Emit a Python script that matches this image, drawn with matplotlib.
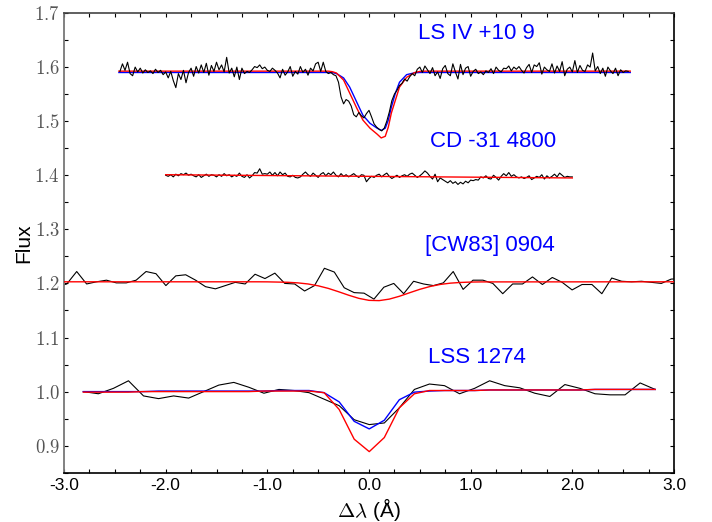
import numpy as np
import matplotlib
matplotlib.use("Agg")
import matplotlib.pyplot as plt
from matplotlib.ticker import MultipleLocator, FuncFormatter

plt.rcParams['font.family'] = ['Liberation Sans', 'DejaVu Sans']
plt.rcParams['mathtext.fontset'] = 'cm'
plt.rcParams['axes.unicode_minus'] = False

# ---------------- data ----------------
# LS IV +10 9 (observed, grid -2.45 .. 2.55, step 0.025)
ls4_wave_start, ls4_wave_step = -2.45, 0.025
ls4_flux = [
    1.592, 1.606, 1.594, 1.609, 1.588, 1.584, 1.600, 1.591, 1.598, 1.589,
    1.595, 1.590, 1.593, 1.588, 1.596, 1.590, 1.594, 1.586, 1.591, 1.580,
    1.592, 1.575, 1.562, 1.588, 1.577, 1.594, 1.571, 1.590, 1.598, 1.583,
    1.601, 1.589, 1.604, 1.590, 1.607, 1.585, 1.603, 1.592, 1.609, 1.595,
    1.604, 1.591, 1.618, 1.589, 1.598, 1.582, 1.600, 1.577, 1.598, 1.588,
    1.592, 1.590, 1.595, 1.601, 1.599, 1.604, 1.597, 1.600, 1.594, 1.592,
    1.598, 1.594, 1.589, 1.580, 1.596, 1.585, 1.591, 1.601, 1.583, 1.592,
    1.587, 1.601, 1.590, 1.596, 1.585, 1.598, 1.593, 1.606, 1.609, 1.592,
    1.609, 1.592, 1.588, 1.590, 1.586, 1.584, 1.572, 1.545, 1.532, 1.540,
    1.537, 1.528, 1.512, 1.508, 1.516, 1.510, 1.506, 1.514, 1.520, 1.508,
    1.495, 1.489, 1.485, 1.482, 1.487, 1.500, 1.517, 1.538, 1.550, 1.557,
    1.566, 1.570, 1.578, 1.574, 1.582, 1.588, 1.584, 1.596, 1.600, 1.590,
    1.602, 1.595, 1.588, 1.599, 1.584, 1.591, 1.579, 1.597, 1.603, 1.588,
    1.584, 1.606, 1.591, 1.578, 1.605, 1.586, 1.598, 1.601, 1.583, 1.592,
    1.596, 1.588, 1.591, 1.586, 1.593, 1.590, 1.597, 1.588, 1.600, 1.594,
    1.591, 1.598, 1.597, 1.602, 1.593, 1.600, 1.596, 1.601, 1.594, 1.589,
    1.599, 1.605, 1.590, 1.604, 1.601, 1.608, 1.587, 1.600, 1.595, 1.592,
    1.606, 1.589, 1.602, 1.592, 1.610, 1.584, 1.596, 1.600, 1.591, 1.612,
    1.590, 1.603, 1.594, 1.592, 1.604, 1.600, 1.626, 1.593, 1.601, 1.588,
    1.598, 1.583, 1.600, 1.593, 1.588, 1.598, 1.584, 1.595, 1.590, 1.593,
    1.592,
]
ls4_model_wave = [-2.46, -0.40, -0.36, -0.32, -0.25, -0.19, -0.12, -0.06, 0.01, 0.08,
                  0.12, 0.16, 0.19, 0.22, 0.26, 0.30, 0.37, 0.45, 0.50, 0.55, 2.57]
ls4_red = [1.5925, 1.5925, 1.5915, 1.589, 1.576, 1.552, 1.524, 1.502, 1.487, 1.476,
           1.469, 1.472, 1.489, 1.515, 1.539, 1.563, 1.581, 1.590, 1.592, 1.5925, 1.5925]
ls4_blue = [1.590, 1.590, 1.5898, 1.588, 1.580, 1.563, 1.535, 1.511, 1.496, 1.487,
            1.483, 1.487, 1.502, 1.526, 1.552, 1.572, 1.586, 1.5895, 1.590, 1.590, 1.590]

# CD -31 4800 (observed, grid -2.0 .. 2.0, step 0.025)
cd_wave_start, cd_wave_step = -2.0, 0.025
cd_flux = [
    1.400, 1.398, 1.401, 1.397, 1.402, 1.399, 1.403, 1.401, 1.404, 1.400,
    1.402, 1.399, 1.397, 1.401, 1.396, 1.399, 1.402, 1.398, 1.401, 1.400,
    1.397, 1.401, 1.398, 1.403, 1.399, 1.401, 1.397, 1.400, 1.398, 1.404,
    1.398, 1.396, 1.401, 1.395, 1.399, 1.405, 1.404, 1.412, 1.402, 1.403,
    1.402, 1.406, 1.400, 1.405, 1.399, 1.406, 1.401, 1.404, 1.398, 1.397,
    1.400, 1.396, 1.395, 1.397, 1.402, 1.406, 1.401, 1.398, 1.404, 1.400,
    1.396, 1.402, 1.405, 1.399, 1.404, 1.401, 1.406, 1.400, 1.397, 1.403,
    1.398, 1.401, 1.397, 1.400, 1.403, 1.399, 1.396, 1.401, 1.400, 1.388,
    1.394, 1.398, 1.396, 1.400, 1.402, 1.397, 1.401, 1.404, 1.398, 1.394,
    1.397, 1.400, 1.396, 1.399, 1.401, 1.398, 1.402, 1.404, 1.400, 1.396,
    1.399, 1.403, 1.408, 1.404, 1.398, 1.393, 1.402, 1.388, 1.395, 1.392,
    1.389, 1.386, 1.390, 1.385, 1.388, 1.383, 1.387, 1.384, 1.389, 1.386,
    1.391, 1.390, 1.392, 1.391, 1.397, 1.395, 1.399, 1.394, 1.393, 1.400,
    1.396, 1.391, 1.398, 1.403, 1.399, 1.405, 1.398, 1.401, 1.397, 1.395,
    1.397, 1.394, 1.396, 1.399, 1.392, 1.395, 1.398, 1.396, 1.401, 1.393,
    1.399, 1.395, 1.398, 1.402, 1.397, 1.404, 1.400, 1.396, 1.398, 1.397,
    1.397,
]
cd_model_wave = [-2.0, 2.0]
cd_red = [1.401, 1.395]

# [CW83] 0904 (observed, grid -3.07 .. 3.07, 64 points)
cw_wave_start, cw_wave_end = -3.07, 3.07
cw_flux = [
    1.194, 1.199, 1.222, 1.199, 1.203, 1.206, 1.201, 1.201, 1.206, 1.222,
    1.218, 1.196, 1.214, 1.216, 1.206, 1.194, 1.190, 1.196, 1.202, 1.199,
    1.217, 1.209, 1.219, 1.200, 1.199, 1.186, 1.196, 1.228, 1.221, 1.192,
    1.183, 1.182, 1.171, 1.193, 1.200, 1.181, 1.204, 1.199, 1.196, 1.201,
    1.222, 1.189, 1.206, 1.206, 1.200, 1.181, 1.199, 1.199, 1.212, 1.198,
    1.211, 1.202, 1.188, 1.198, 1.198, 1.181, 1.210, 1.204, 1.203, 1.204,
    1.202, 1.200, 1.208, 1.209,
]
cw_model_wave = [-3.1, -1.1, -1.0, -0.8, -0.7, -0.6, -0.5, -0.4, -0.3, -0.2, -0.1, 0.0,
                 0.1, 0.2, 0.3, 0.4, 0.5, 0.6, 0.7, 0.8, 0.9, 1.0, 1.1, 3.1]
cw_red = [1.203, 1.203, 1.2029, 1.2021, 1.201, 1.199, 1.1956, 1.1908, 1.1847, 1.1782,
          1.1724, 1.1687, 1.1682, 1.171, 1.1763, 1.1828, 1.1891, 1.1943, 1.1981,
          1.2005, 1.2018, 1.2025, 1.2028, 1.203]

# LSS 1274 (observed, grid -2.81 .. 2.815, 39 points)
lss_wave_start, lss_wave_end = -2.81, 2.815
lss_flux = [
    1.000, 0.996, 1.006, 1.020, 0.992, 0.987, 0.992, 0.988, 1.000, 1.012,
    1.017, 1.008, 0.997, 1.004, 1.002, 0.998, 0.986, 0.974, 0.948, 0.939,
    0.942, 0.970, 1.004, 1.014, 1.011, 0.996, 1.006, 1.020, 1.011, 1.007,
    0.997, 0.991, 1.013, 1.006, 0.996, 0.994, 0.994, 1.016, 1.004,
]
lss_red = [
    0.999, 0.999, 0.999, 0.999, 1.000, 1.000, 1.000, 1.000, 1.000, 1.000,
    1.000, 1.000, 1.001, 1.001, 1.001, 1.001, 0.998, 0.967, 0.912, 0.889,
    0.915, 0.970, 0.996, 1.002, 1.002, 1.002, 1.002, 1.003, 1.003, 1.003,
    1.003, 1.003, 1.003, 1.003, 1.004, 1.004, 1.004, 1.004, 1.004,
]
lss_blue = [
    1.000, 1.000, 1.000, 1.000, 1.000, 1.001, 1.001, 1.001, 1.001, 1.001,
    1.001, 1.001, 1.001, 1.002, 1.002, 1.002, 0.998, 0.981, 0.945, 0.931,
    0.947, 0.985, 0.999, 1.001, 1.002, 1.002, 1.002, 1.003, 1.003, 1.003,
    1.003, 1.003, 1.003, 1.003, 1.004, 1.004, 1.004, 1.004, 1.004,
]

star_names = ["LS IV +10 9", "CD -31 4800", "[CW83] 0904", "LSS 1274"]
label_pos = [(0.48, 1.663), (0.60, 1.463), (0.55, 1.270), (0.58, 1.063)]

x_ticks = [-3.0, -2.0, -1.0, 0.0, 1.0, 2.0, 3.0]
y_ticks = [0.9, 1.0, 1.1, 1.2, 1.3, 1.4, 1.5, 1.6, 1.7]

# ---------------- plot ----------------
fig = plt.figure(figsize=(7.12, 5.22), dpi=100)
ax = fig.add_axes([0.0899, 0.0944, 0.8567, 0.8807])

ls4_wave = ls4_wave_start + ls4_wave_step * np.arange(len(ls4_flux))
cd_wave = cd_wave_start + cd_wave_step * np.arange(len(cd_flux))
cw_wave = np.linspace(cw_wave_start, cw_wave_end, len(cw_flux))
lss_wave = np.linspace(lss_wave_start, lss_wave_end, len(lss_flux))

lw_obs = 0.8
lw_mod = 1.0
# LS IV +10 9
ax.plot(ls4_model_wave, ls4_blue, color='#0000ff', lw=lw_mod, zorder=2)
ax.plot(ls4_model_wave, ls4_red, color='#ff0000', lw=lw_mod, zorder=2)
ax.plot(ls4_wave, ls4_flux, color='black', lw=lw_obs, zorder=3)
# CD -31 4800
ax.plot(cd_wave, cd_flux, color='black', lw=lw_obs, zorder=2)
ax.plot(cd_model_wave, cd_red, color='#ff0000', lw=lw_mod, zorder=3)
# [CW83] 0904
ax.plot(cw_wave, cw_flux, color='black', lw=lw_obs, zorder=2)
ax.plot(cw_model_wave, cw_red, color='#ff0000', lw=lw_mod, zorder=3)
# LSS 1274
ax.plot(lss_wave, lss_flux, color='black', lw=lw_obs, zorder=2)
ax.plot(lss_wave, lss_blue, color='#0000ff', lw=lw_mod, zorder=3)
ax.plot(lss_wave, lss_red, color='#ff0000', lw=lw_mod, zorder=4)

for name, (tx, ty) in zip(star_names, label_pos):
    ax.text(tx, ty, name, color='#0000ff', fontsize=16, ha='left', va='center')

ax.set_xlim(-3.0, 3.0)
ax.set_ylim(0.85, 1.7)
ax.set_xticks(x_ticks)
ax.set_yticks(y_ticks)
ax.xaxis.set_minor_locator(MultipleLocator(0.25))
ax.yaxis.set_minor_locator(MultipleLocator(0.05))
ax.xaxis.set_major_formatter(FuncFormatter(lambda v, p: f"{v:.1f}"))
ax.yaxis.set_major_formatter(FuncFormatter(lambda v, p: f"${v:.1f}$"))

ax.tick_params(which='both', direction='in', top=True, right=True,
               length=3, width=0.8)
ax.tick_params(axis='x', labelsize=12.5, pad=4, labelcolor='black')
ax.tick_params(axis='y', labelsize=13.5, pad=3, labelcolor='#555555')

for side in ['bottom', 'right']:
    ax.spines[side].set_color('black')
    ax.spines[side].set_linewidth(1.2)
ax.spines['left'].set_color('#777777')
ax.spines['left'].set_linewidth(1.3)
ax.spines['top'].set_color('#444444')
ax.spines['top'].set_linewidth(1.2)

ax.set_xlabel(r"$\Delta\lambda$ (Å)", fontsize=15, labelpad=2)
ax.set_ylabel("Flux", fontsize=15, labelpad=1)

fig.savefig("out.png", dpi=100)
